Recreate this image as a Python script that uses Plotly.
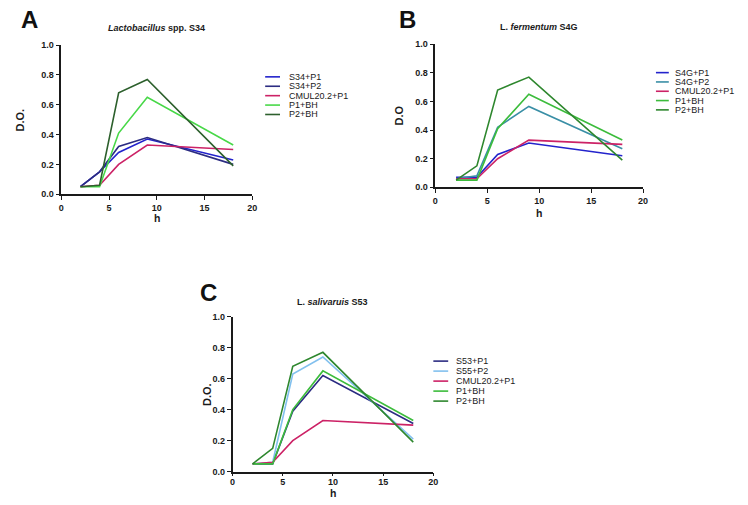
import plotly.graph_objects as go

W, H = 748, 505
FONT = "Liberation Sans, Arial, sans-serif"

# ---------------- data ----------------
hours = [2, 4, 6, 9, 18]

# Panel A - Lactobacillus spp. S34
a_names = ["S34+P1", "S34+P2", "CMUL20.2+P1", "P1+BH", "P2+BH"]
a_s34_p1 = [0.05, 0.15, 0.28, 0.37, 0.23]
a_s34_p2 = [0.05, 0.15, 0.32, 0.38, 0.20]
a_cmul = [0.05, 0.06, 0.20, 0.33, 0.30]
a_p1_bh = [0.05, 0.05, 0.41, 0.65, 0.33]
a_p2_bh = [0.05, 0.06, 0.68, 0.77, 0.19]

# Panel B - L. fermentum S4G
b_names = ["S4G+P1", "S4G+P2", "CMUL20.2+P1", "P1+BH", "P2+BH"]
b_s4g_p1 = [0.07, 0.07, 0.23, 0.31, 0.22]
b_s4g_p2 = [0.06, 0.08, 0.42, 0.565, 0.27]
b_cmul = [0.06, 0.06, 0.20, 0.33, 0.30]
b_p1_bh = [0.05, 0.05, 0.41, 0.65, 0.33]
b_p2_bh = [0.05, 0.15, 0.68, 0.77, 0.19]

# Panel C - L. salivaruis S53
c_names = ["S53+P1", "S55+P2", "CMUL20.2+P1", "P1+BH", "P2+BH"]
c_s53_p1 = [0.05, 0.05, 0.39, 0.62, 0.31]
c_s55_p2 = [0.05, 0.06, 0.63, 0.74, 0.21]
c_cmul = [0.05, 0.06, 0.20, 0.33, 0.30]
c_p1_bh = [0.05, 0.05, 0.40, 0.65, 0.33]
c_p2_bh = [0.05, 0.15, 0.68, 0.77, 0.19]

x_ticks = [0, 5, 10, 15, 20]
y_ticks = [0.0, 0.2, 0.4, 0.6, 0.8, 1.0]

# ---------------- styles ----------------
a_colors = ["#2323cc", "#2c2c82", "#cc2266", "#48d848", "#2d602d"]
b_colors = ["#2323cc", "#3a8fa6", "#cc2266", "#3cbc3c", "#2e872e"]
c_colors = ["#2c2c82", "#82c0ee", "#cc2266", "#3cbc3c", "#2e872e"]


def px(x):
    return x / W


def py(y):
    return 1 - y / H


panels = [
    dict(key="", names=a_names, series=[a_s34_p1, a_s34_p2, a_cmul, a_p1_bh, a_p2_bh],
         colors=a_colors, xdom=(59, 252), ydom=(41, 193),
         title="<b><i>Lactobacillus</i> spp. S34</b>", title_y=23,
         letter="A", letter_xy=(27, 15), ytitle="D.O.", ytitle_x=17,
         xtitle=(217, "middle"), xtick=(4, 0), leg=(265, 280, 288, 73.3, 9.6)),
    dict(key="2", names=b_names, series=[b_s4g_p1, b_s4g_p2, b_cmul, b_p1_bh, b_p2_bh],
         colors=b_colors, xdom=(437, 647), ydom=(40, 186),
         title="<b>L. <i>fermentum</i> S4G</b>", title_y=22,
         letter="B", letter_xy=(409, 15), ytitle="D.O", ytitle_x=400,
         xtitle=(212, "middle"), xtick=(4, 0), leg=(660, 673, 678, 69, 9.5)),
    dict(key="3", names=c_names, series=[c_s53_p1, c_s55_p2, c_cmul, c_p1_bh, c_p2_bh],
         colors=c_colors, xdom=(232, 435), ydom=(318, 476),
         title="<b>L. <i>salivaruis</i> S53</b>", title_y=303,
         letter="C", letter_xy=(208, 293), ytitle="D.O.", ytitle_x=206,
         xtitle=(505, "bottom"), xtick=(3, -2), leg=(435, 450, 457, 363.3, 10.2)),
]

fig = go.Figure()
annotations = []
shapes = []


def note(x, y, text, size, angle=0, xanchor="center", yanchor="middle", color="#1a1a1a"):
    annotations.append(dict(
        x=px(x), y=py(y), xref="paper", yref="paper", text=text, showarrow=False,
        xanchor=xanchor, yanchor=yanchor, textangle=angle, borderpad=0,
        font=dict(family=FONT, size=size, color=color),
    ))


for p in panels:
    k = p["key"]
    for name, vals, col in zip(p["names"], p["series"], p["colors"]):
        fig.add_trace(go.Scatter(
            x=hours, y=vals, mode="lines", name=name,
            line=dict(color=col, width=1.6),
            xaxis="x" + k, yaxis="y" + k, showlegend=False,
        ))
    axis_common = dict(
        showline=True, linecolor="#1a1a1a", linewidth=1.6,
        ticks="outside", tickwidth=1.4, tickcolor="#1a1a1a",
        showgrid=False, zeroline=False,
        tickfont=dict(family=FONT, size=9, color="#1a1a1a", weight="bold"),
    )
    fig.update_layout(**{
        "xaxis" + k: dict(domain=[px(p["xdom"][0]), px(p["xdom"][1])], range=[0, 20],
                          tickvals=x_ticks, anchor="y" + k, ticklen=p["xtick"][0],
                          ticklabelstandoff=p["xtick"][1], **axis_common),
        "yaxis" + k: dict(domain=[py(p["ydom"][1]), py(p["ydom"][0])], range=[0, 1],
                          tickvals=y_ticks, tickformat=".1f", anchor="x" + k, ticklen=4,
                          **axis_common),
    })
    xc = (p["xdom"][0] + p["xdom"][1]) / 2
    yc = (p["ydom"][0] + p["ydom"][1]) / 2
    note(xc, p["title_y"], p["title"], 9)
    note(p["letter_xy"][0], p["letter_xy"][1], "<b>" + p["letter"] + "</b>", 24, color="#111")
    note(p["ytitle_x"], yc, "<b>" + p["ytitle"] + "</b>", 11, angle=-90)
    note(xc, p["xtitle"][0], "<b>h</b>", 10.5, yanchor=p["xtitle"][1])
    # legend
    lx0, lx1, tx, ly0, dy = p["leg"]
    for i, (name, col) in enumerate(zip(p["names"], p["colors"])):
        yy = ly0 + i * dy
        shapes.append(dict(type="line", xref="paper", yref="paper",
                           x0=px(lx0), x1=px(lx1), y0=py(yy), y1=py(yy),
                           line=dict(color=col, width=1.6)))
        note(tx, yy, name, 9, xanchor="left")

fig.update_layout(
    width=W, height=H, margin=dict(l=0, r=0, t=0, b=0),
    paper_bgcolor="white", plot_bgcolor="white",
    annotations=annotations, shapes=shapes, showlegend=False,
)

fig.write_html(
    "out.html",
    config={"displayModeBar": False},
    post_script="document.body.style.margin='0';document.body.style.overflow='hidden';",
)
